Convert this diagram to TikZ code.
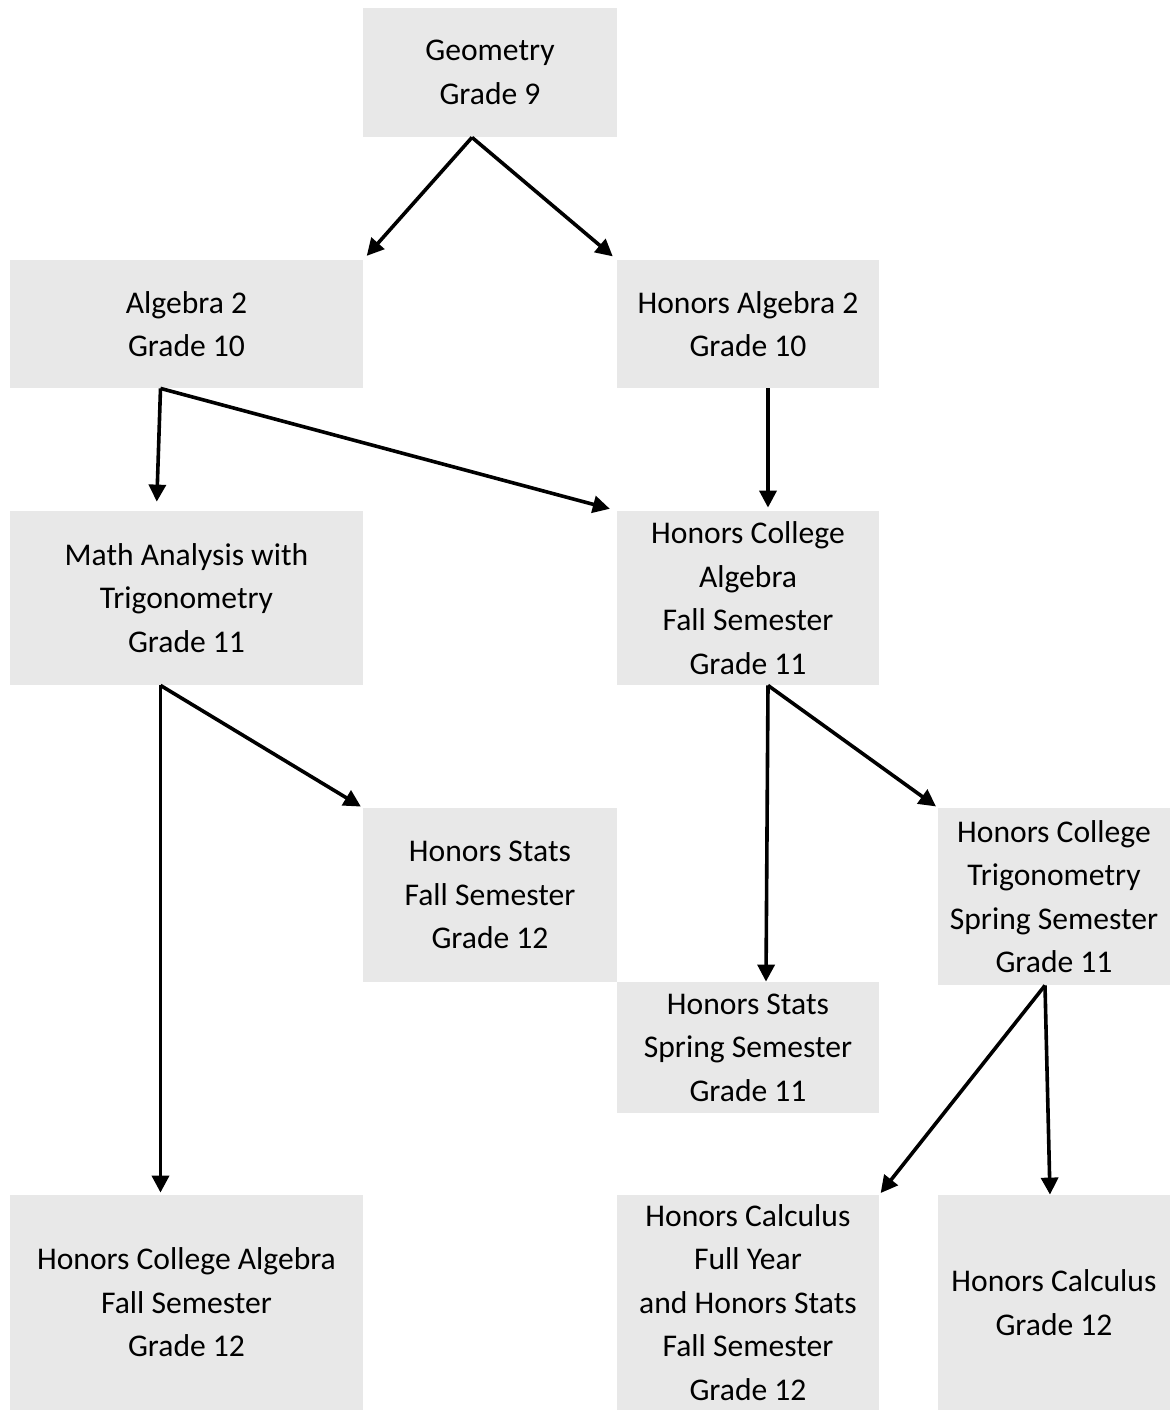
\documentclass[tikz,border=0pt]{standalone}
\usepackage{fontspec}
\setmainfont{Carlito}
\usetikzlibrary{arrows.meta}

\definecolor{boxgray}{RGB}{232,232,232}

\begin{document}
\begin{tikzpicture}[x=0.5pt, y=-0.5pt,
          box/.style={fill=boxgray, align=center, inner sep=0,
                      font=\fontsize{15.8pt}{21.75pt}\selectfont},
          link/.style={-{Triangle[length=8.5pt,width=8.5pt]}, line width=1.8pt}
        ]
        \useasboundingbox (0,0) rectangle (1170,1410);

        % ---- grade 9 ----
        \node[box, minimum width=127pt, minimum height=64.5pt] (geo) at (490,72.5)
          {Geometry\\Grade 9};

        % ---- grade 10 ----
        \node[box, minimum width=176.5pt, minimum height=64pt] (alg) at (186.5,324)
          {Algebra 2\\Grade 10};
        \node[box, minimum width=131pt, minimum height=64pt] (halg) at (748,324)
          {Honors Algebra 2\\Grade 10};

        % ---- grade 11 ----
        \node[box, minimum width=176.5pt, minimum height=87pt] (math) at (186.5,598)
          {Math Analysis with\\Trigonometry\\Grade 11};
        \node[box, minimum width=131pt, minimum height=87pt] (hca) at (748,598)
          {Honors College\\Algebra\\Fall Semester\\Grade 11};

        % ---- semester courses ----
        \node[box, minimum width=127pt, minimum height=87pt] (hstf) at (490,895)
          {Honors Stats\\Fall Semester\\Grade 12};
        \node[box, minimum width=116pt, minimum height=88.5pt] (hct) at (1054,896.5)
          {Honors College\\Trigonometry\\Spring Semester\\Grade 11};
        \node[box, minimum width=131pt, minimum height=65.5pt] (hsts) at (748,1047.5)
          {Honors Stats\\Spring Semester\\Grade 11};

        % ---- grade 12 ----
        \node[box, minimum width=176.5pt, minimum height=107.5pt] (hca12) at (186.5,1302.5)
          {Honors College Algebra\\Fall Semester\\Grade 12};
        \node[box, minimum width=131pt, minimum height=107.5pt] (hcalc) at (748,1302.5)
          {Honors Calculus\\Full Year\\and Honors Stats\\Fall Semester\\Grade 12};
        \node[box, minimum width=116pt, minimum height=107.5pt] (hc12) at (1054,1302.5)
          {Honors Calculus\\Grade 12};

        % ---- arrows ----
        \draw[link, shorten >=2.5pt] ([xshift=-9pt]geo.south) -- (alg.north east);
        \draw[link, shorten >=2.5pt] ([xshift=-9pt]geo.south) -- (halg.north west);

        \draw[link, shorten >=4.5pt] ([xshift=-13pt]alg.south) -- ([xshift=-15pt]math.north);
        \draw[link, shorten >=3.5pt] ([xshift=-13pt]alg.south) -- (hca.north west);
        \draw[link, shorten >=1.5pt] ([xshift=10pt]halg.south) -- ([xshift=10pt]hca.north);

        \draw[link, shorten >=1pt] ([xshift=-13pt]math.south) -- ([xshift=-13pt]hca12.north);
        \draw[link, shorten >=1pt] ([xshift=-13pt]math.south) -- (hstf.north west);

        \draw[link] ([xshift=10pt]hca.south) -- ([xshift=9pt]hsts.north);
        \draw[link, shorten >=1pt] ([xshift=10pt]hca.south) -- (hct.north west);

        \draw[link, shorten >=1pt] ([xshift=-4.5pt]hct.south) -- (hcalc.north east);
        \draw[link] ([xshift=-4.5pt]hct.south) -- ([xshift=-2pt]hc12.north);

      \end{tikzpicture}
\end{document}
